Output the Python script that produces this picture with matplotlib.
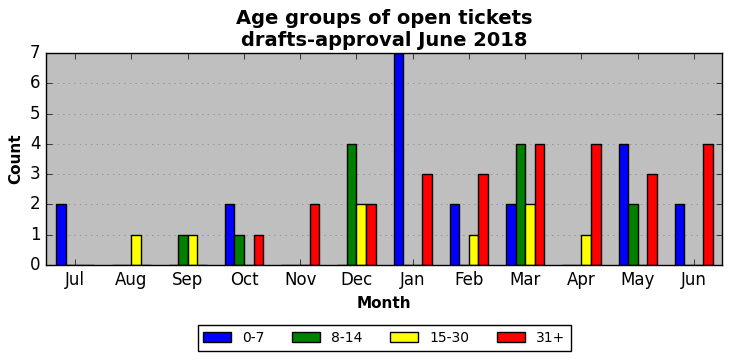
import matplotlib
matplotlib.use("Agg")
import matplotlib.pyplot as plt
import numpy as np

plt.style.use("classic")

months = ["Jul", "Aug", "Sep", "Oct", "Nov", "Dec", "Jan", "Feb", "Mar", "Apr", "May", "Jun"]
age_labels = ["0-7", "8-14", "15-30", "31+"]
g0_7 = [2, 0, 0, 2, 0, 0, 7, 2, 2, 0, 4, 2]
g8_14 = [0, 0, 1, 1, 0, 4, 0, 0, 4, 0, 2, 0]
g15_30 = [0, 1, 1, 0, 0, 2, 0, 1, 2, 1, 0, 0]
g31p = [0, 0, 0, 1, 2, 2, 3, 3, 4, 4, 3, 4]
series = [g0_7, g8_14, g15_30, g31p]
colors = ["blue", "green", "yellow", "red"]

fig = plt.figure(figsize=(7.32, 3.61), dpi=100, facecolor="white")
ax = fig.add_axes([46/732, 1-265/361, (722-46)/732, (265-53)/361])
ax.set_facecolor("#bfbfbf")

x = np.arange(len(months))
w = 0.17
offsets = [-2*w, -w, 0, w]
for vals, c, lab, off in zip(series, colors, age_labels, offsets):
    ax.bar(x + off, vals, width=w, align="edge", color=c, edgecolor="black",
           linewidth=1, label=lab)

ax.set_xlim(-0.52, 11.5)
ax.set_ylim(0, 7)
ax.set_xticks(x)
ax.set_xticklabels(months, fontsize=12)
ax.set_yticks(range(0, 8))
ax.tick_params(axis="y", labelsize=12)
ax.yaxis.grid(True, linestyle=":", color="gray")
ax.set_axisbelow(True)
ax.set_xlabel("Month", fontweight="bold", fontsize=11)
ax.set_ylabel("Count", fontweight="bold", fontsize=11)
ax.set_title("Age groups of open tickets\ndrafts-approval June 2018",
             fontweight="bold", fontsize=14)

leg = fig.legend(loc="center", bbox_to_anchor=(384/732, 1-338/361), ncol=4,
                 fontsize=10, frameon=True, fancybox=False, numpoints=1,
                 handlelength=2, columnspacing=2.0)
leg.get_frame().set_edgecolor("black")

fig.savefig("out.png", dpi=100, facecolor="white")
